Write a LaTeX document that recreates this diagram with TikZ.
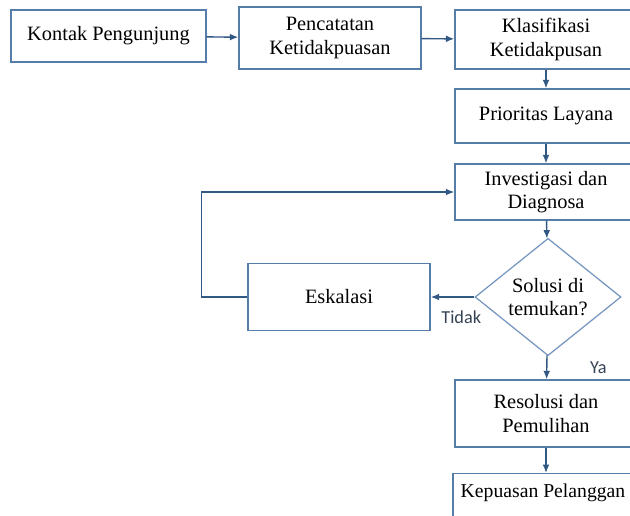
\documentclass[tikz,border=0pt]{standalone}
\usepackage{fontspec}
\setmainfont{Liberation Serif}
\newfontfamily\answerfont{Carlito}
\usepackage{xcolor}
\usetikzlibrary{arrows.meta,positioning,shapes.geometric}

\definecolor{boxline}{RGB}{86,124,168}
\definecolor{flowline}{RGB}{50,88,132}
\definecolor{diamondline}{RGB}{118,152,192}
\definecolor{answertext}{RGB}{52,66,84}

\begin{document}
\begin{tikzpicture}[
    x=0.025cm, y=-0.025cm,
    font=\fontsize{14.5}{16.8}\selectfont,
    box/.style={
        rectangle,
        draw=boxline,
        line width=1pt,
        align=center,
        minimum width=4.55cm,
        inner sep=2pt
    },
    decision/.style={
        diamond,
        draw=diamondline,
        line width=0.9pt,
        align=center,
        minimum width=3.65cm,
        minimum height=2.725cm,
        inner sep=0pt
    },
    flow/.style={-{Latex[length=2.1mm,width=1.7mm]}, line width=1pt, draw=flowline},
    answer/.style={font=\answerfont\fontsize{13}{15}\selectfont, text=answertext}
]

% picture frame
\clip (0,0) rectangle (630,515);

% =========================================================
% Top row
% =========================================================
\node[box, minimum width=4.875cm, minimum height=1.3cm] (kontak) at (108.5,36) {Kontak Pengunjung};
\node[box, minimum height=1.55cm] (catat) at (330,38) {Pencatatan\\Ketidakpuasan};
\node[box, minimum height=1.475cm] (klasifikasi) at (546,39.5) {Klasifikasi\\Ketidakpusan};

% =========================================================
% Right column
% =========================================================
\node[box, minimum height=1.35cm] (prioritas) at (546,116) {Prioritas Layana};
\node[box, minimum height=1.4cm] (investigasi) at (546,192) {Investigasi dan\\Diagnosa};
\node[decision] (solusi) at (548,297) {Solusi di\\temukan?};
\node[box, minimum height=1.675cm] (resolusi) at (546,413.5) {Resolusi dan\\Pemulihan};
\node[box, minimum width=4.5cm, inner ysep=0pt, text height=0.6cm, text depth=0.9cm,
      font=\fontsize{14}{16.5}\selectfont, anchor=north] (kepuasan) at (543,473) {Kepuasan Pelanggan};

% Escalation
\node[box, minimum height=1.675cm] (eskalasi) at (339,297) {Eskalasi};

% =========================================================
% Connectors
% =========================================================
\draw[flow] (kontak) -- (catat);
\draw[flow] (catat) -- (klasifikasi);
\draw[flow] (klasifikasi) -- (prioritas);
\draw[flow] (prioritas) -- (investigasi);
\draw[flow] (investigasi) -- (solusi);
\draw[flow] (solusi) -- node[answer, pos=0.3, below=0.22cm] (tidak) {Tidak} (eskalasi);
\draw[flow] (solusi) -- node[answer, right=0.95cm] (ya) {Ya} (resolusi);
\draw[flow] (resolusi.south) -- (resolusi.south |- kepuasan.north);

% loop back
\draw[flow] (eskalasi.west) -- ++(-46,0) |- (investigasi.west);

\end{tikzpicture}
\end{document}
